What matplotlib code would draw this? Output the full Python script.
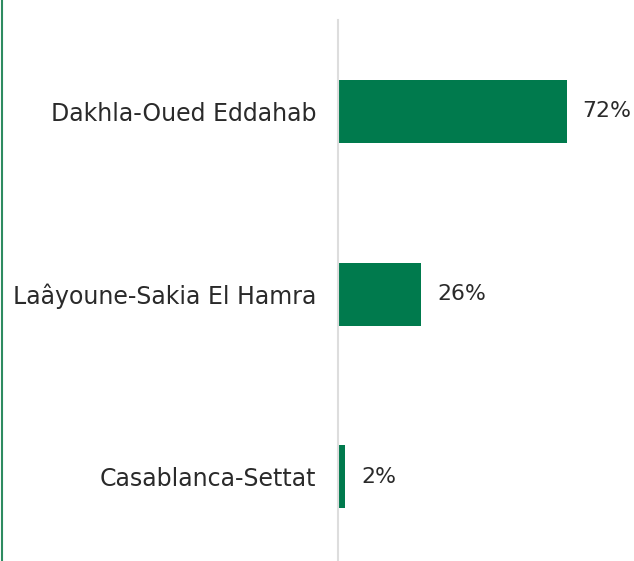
import matplotlib
matplotlib.use('Agg')
import matplotlib.pyplot as plt
from matplotlib.lines import Line2D

regions = ["Dakhla-Oued Eddahab", "Laâyoune-Sakia El Hamra", "Casablanca-Settat"]
shares = [72, 26, 2]
labels = ["72%", "26%", "2%"]

green = "#007A4D"
text_col = "#2a2a2a"

W, H = 634, 561
fig = plt.figure(figsize=(W / 100, H / 100), dpi=100)
plt.rcParams['font.family'] = ['DejaVu Sans']

ax = fig.add_axes([338 / W, 0, (W - 338) / W, (H - 20) / H])
ypos = list(range(len(regions)))
ax.barh(ypos, shares, height=0.345, color=green, left=0.3)
ax.set_ylim(2.46, -0.5)
ax.set_xlim(0, 93.6)

for y, v, lab in zip(ypos, shares, labels):
    ax.annotate(lab, (v + 0.3, y), xytext=(16, 0), textcoords='offset pixels',
                va='center', ha='left', fontsize=15.8, color=text_col)

ax.set_yticks(ypos)
ax.set_yticklabels(regions, fontsize=17, color=text_col)
ax.tick_params(axis='y', length=0, pad=15.5)
ax.set_xticks([])
for s in ['top', 'right', 'bottom']:
    ax.spines[s].set_visible(False)
ax.spines['left'].set_color('#dddddd')
ax.spines['left'].set_linewidth(1.5)

# green rule on the far left
fig.add_artist(Line2D([1.5 / W, 1.5 / W], [0, 1], color='#2E8B60', linewidth=1.5))

fig.savefig('out.png', dpi=100)
